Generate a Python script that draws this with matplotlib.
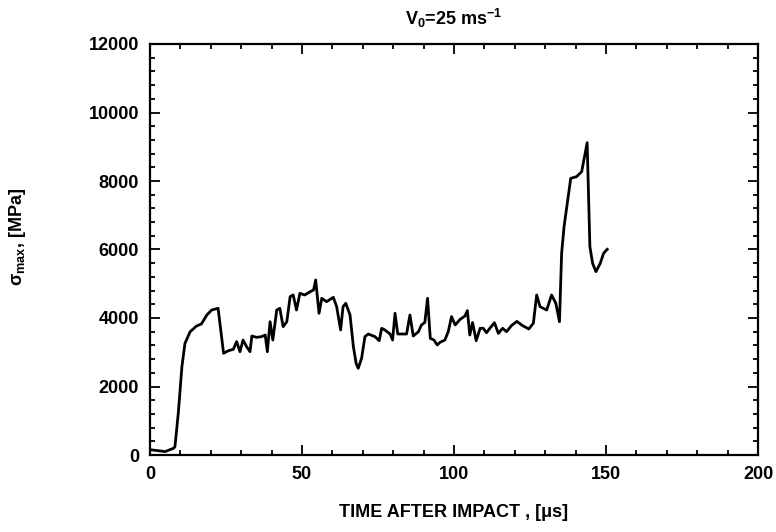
import matplotlib
matplotlib.use("Agg")
import matplotlib.pyplot as plt
from matplotlib.ticker import MultipleLocator

# time after impact [us] and max stress [MPa]
time_us = [0.5, 3.25, 5.0, 7.7, 8.2, 9.3, 10.5, 11.5, 13.2, 15.3, 16.9, 18.7, 20.3, 22.4,
           24.2, 25.8, 27.4, 28.5, 29.6, 30.6, 31.8, 32.9, 33.5, 35.1, 36.7, 37.9, 38.6,
           39.5, 40.4, 41.7, 42.7, 43.8, 45.0, 46.1, 47.1, 48.2, 49.3, 50.9, 52.7, 53.8,
           54.5, 55.6, 56.5, 58.1, 59.2, 60.3, 61.4, 62.7, 63.5, 64.4, 65.8, 66.9, 67.8,
           68.5, 69.6, 70.7, 71.8, 74.0, 75.4, 76.2, 77.3, 79.0, 79.8, 80.6, 81.5, 84.4,
           85.5, 86.6, 88.3, 89.3, 90.4, 91.3, 92.2, 93.4, 94.5, 95.4, 97.0, 98.1, 99.2,
           100.4, 102.0, 103.6, 104.4, 105.2, 106.1, 107.3, 108.6, 109.6, 110.7, 111.8,
           113.3, 114.6, 116.0, 117.3, 118.9, 120.7, 122.5, 124.6, 126.1, 127.2, 128.3,
           130.5, 132.1, 133.5, 134.7, 135.4, 136.2, 138.4, 140.3, 142.0, 143.8, 144.7,
           145.6, 146.7, 148.1, 149.2, 150.4]
sigma_max = [150, 120, 100, 195, 240, 1215, 2580, 3260, 3600, 3766, 3825, 4088, 4234, 4283,
             2970, 3045, 3085, 3310, 3016, 3357, 3160, 3016, 3474, 3435, 3455, 3503, 3016,
             3892, 3357, 4234, 4283, 3747, 3892, 4623, 4672, 4234, 4720, 4672, 4769, 4818,
             5110, 4137, 4575, 4477, 4540, 4604, 4331, 3650, 4330, 4429, 4088, 3162, 2677,
             2530, 2823, 3455, 3533, 3455, 3337, 3698, 3650, 3530, 3357, 4137, 3533, 3533,
             4088, 3474, 3600, 3796, 3869, 4575, 3406, 3357, 3212, 3290, 3357, 3600, 4040,
             3796, 3960, 4058, 4215, 3503, 3869, 3337, 3700, 3700, 3571, 3700,
             3863, 3550, 3700, 3600, 3780, 3900, 3780, 3680, 3845, 4672, 4331,
             4234, 4672, 4429, 3892, 5888, 6666, 8078, 8126, 8272, 9119, 6082,
             5596, 5353, 5596, 5888, 6005]

plt.rcParams['font.family'] = ['Liberation Sans', 'DejaVu Sans']
plt.rcParams['font.weight'] = 'bold'
plt.rcParams['mathtext.fontset'] = 'custom'
plt.rcParams['mathtext.rm'] = 'Liberation Sans:bold'
plt.rcParams['mathtext.it'] = 'Liberation Sans:bold'
plt.rcParams['mathtext.bf'] = 'Liberation Sans:bold'

fig = plt.figure(figsize=(7.76, 5.32), dpi=100)
ax = fig.add_axes([150/776, 1-455/532, 608/776, 411/532])

ax.plot(time_us, sigma_max, color='black', lw=2.0)

ax.set_xlim(0, 200)
ax.set_ylim(0, 12000)
ax.xaxis.set_major_locator(MultipleLocator(50))
ax.xaxis.set_minor_locator(MultipleLocator(10))
ax.yaxis.set_major_locator(MultipleLocator(2000))
ax.yaxis.set_minor_locator(MultipleLocator(400))
ax.tick_params(which='both', direction='in', top=True, right=True, width=1.3)
ax.tick_params(which='major', length=7, labelsize=13, pad=8)
ax.tick_params(which='minor', length=3.5)
for s in ax.spines.values():
    s.set_linewidth(1.6)
for lab in ax.get_xticklabels() + ax.get_yticklabels():
    lab.set_fontweight('bold')

ax.set_title(r'V$_0$=25 ms$^{-1}$', fontsize=13, fontweight='bold', pad=14)
ax.set_xlabel('TIME AFTER IMPACT , [\u03bcs]', fontsize=13, fontweight='bold', labelpad=15)
ax.set_ylabel(r'$\sigma_{max}$, [MPa]', fontsize=13, fontweight='bold')
ax.yaxis.set_label_coords(-0.2, 0.53)

fig.savefig('out.png', dpi=100)
